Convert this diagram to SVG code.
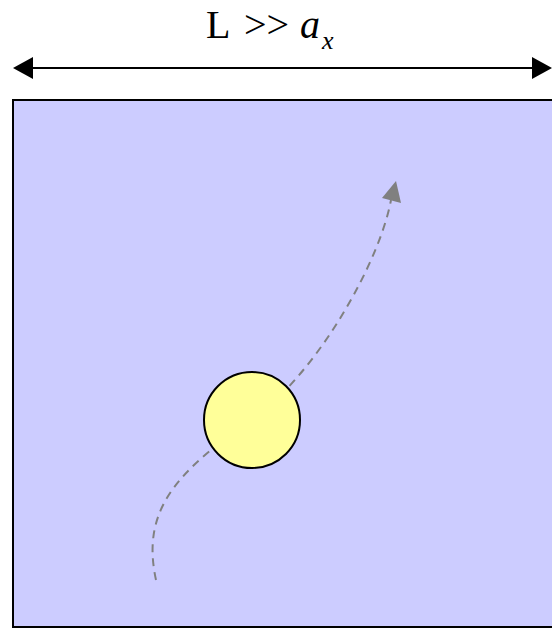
<svg xmlns="http://www.w3.org/2000/svg" width="552" height="628" viewBox="0 0 552 628">
<defs>
<style>
.lbl{font-family:"Liberation Serif","Times New Roman",serif;fill:#000}
.traj{fill:none;stroke:#808080;stroke-width:2;stroke-dasharray:8,6}
</style>
</defs>
<g id="box"><rect x="13" y="100" width="560" height="527" fill="#ccccff" stroke="#000" stroke-width="2"/></g>
<g id="connectors">
<line x1="33" y1="68" x2="532" y2="68" stroke="#000" stroke-width="2"/>
<path d="M33,57 L13,68 L33,79 z" fill="#000"/>
<path d="M532,57 L552,68 L532,79 z" fill="#000"/>
<path class="traj" d="M156,580 C142,515 170,475 252,420 C320,370 380,260 391,200"/>
<path d="M396,181 L382,198 L401,203 z" fill="#808080"/>
</g>
<g id="particle"><circle cx="252" cy="420" r="48" fill="#ffff99" stroke="#000" stroke-width="2"/></g>
<g id="label"><text class="lbl" y="38" font-size="40"><tspan x="206">L</tspan><tspan x="244">&gt;&gt;</tspan><tspan x="300" font-style="italic">a</tspan><tspan x="322" y="49" font-size="26" font-style="italic">x</tspan></text></g>
</svg>
